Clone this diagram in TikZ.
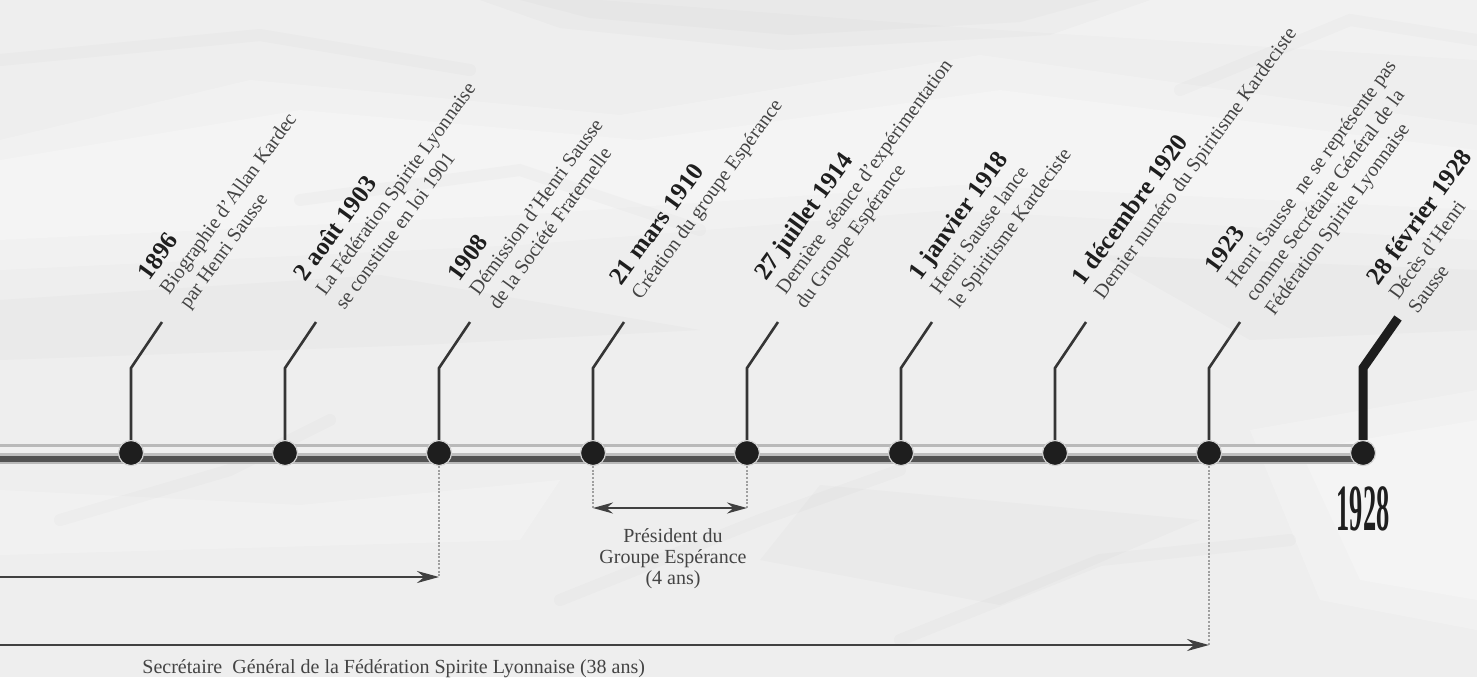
\documentclass[tikz,border=0pt]{standalone}
\usepackage{fontspec}
\setmainfont{Liberation Serif}
\usetikzlibrary{arrows.meta}
\definecolor{paper}{RGB}{238,238,238}
\definecolor{ink}{RGB}{30,30,30}
\definecolor{descink}{RGB}{68,68,68}
\newcommand\tldate[1]{{\fontsize{12.5}{12}\selectfont\bfseries\color{ink}#1}}
\tikzset{
  tldot/.style={circle, fill=ink, draw=gray!35, line width=0.6pt, minimum size=12.5pt, inner sep=0pt},
  tltick/.style={draw=ink!90, line width=1.3pt},
  tlbigtick/.style={draw=ink, line width=4.5pt},
  evlabel/.style={rotate=54, anchor=west, align=left, inner sep=0pt, text=descink,
                  font=\fontsize{10}{12}\selectfont},
  guide/.style={draw=gray!75, line width=0.8pt, dash pattern=on 1pt off 0.8pt},
  span/.style={draw=ink!85, line width=1.2pt},
  note/.style={align=center, text=descink, inner sep=0pt, font=\fontsize{10}{10.5}\selectfont},
  crease/.style={draw=gray, line width=6pt, opacity=0.035, line cap=round},
  glow/.style={fill=white, opacity=0.22}
}
\begin{document}
\begin{tikzpicture}[x=0.5pt,y=-0.5pt]
\useasboundingbox (0,0) rectangle (1477,677);
% paper background
\fill[paper] (0,0) rectangle (1477,677);
\fill[glow] (0,140) -- (250,80) -- (620,115) -- (980,55) -- (1477,125) -- (1477,240) -- (950,210) -- (520,245) -- (0,270) -- cycle;
\fill[glow] (0,160) -- (300,110) -- (640,140) -- (1000,90) -- (1477,150) -- (1477,210) -- (960,185) -- (520,215) -- (0,240) -- cycle;
\fill[glow] (1250,430) -- (1477,390) -- (1477,630) -- (1320,600) -- cycle;
\fill[glow] (1300,450) -- (1477,420) -- (1477,600) -- (1360,580) -- cycle;
\fill[glow] (0,490) -- (300,505) -- (560,480) -- (520,540) -- (0,555) -- cycle;
\fill[glow] (600,0) -- (1477,0) -- (1477,60) -- (1000,30) -- cycle;
\fill[gray,opacity=0.035] (480,0) -- (1150,0) -- (1050,35) -- (780,50) -- (560,28) -- cycle;
\fill[gray,opacity=0.035] (520,0) -- (1100,0) -- (1020,22) -- (790,35) -- (590,18) -- cycle;
\fill[gray,opacity=0.03] (0,300) -- (380,275) -- (700,330) -- (420,345) -- (0,360) -- cycle;
\fill[gray,opacity=0.03] (820,485) -- (1200,520) -- (1000,605) -- (760,560) -- cycle;
\fill[gray,opacity=0.03] (1100,255) -- (1477,270) -- (1477,330) -- (1250,340) -- cycle;
\draw[crease] (0,60) -- (260,35) -- (470,70);
\draw[crease] (560,600) -- (760,520) -- (900,470);
\draw[crease] (1180,90) -- (1350,20) -- (1477,40);
\draw[crease] (60,520) -- (230,470) -- (330,420);
\draw[crease] (900,640) -- (1100,560) -- (1290,540);
\draw[crease] (300,200) -- (520,170) -- (700,230);
% timeline bar
\fill[gray!55] (0,444) rectangle (1363,464);
\fill[gray!12] (0,447) rectangle (1363,453);
\fill[gray!50] (0,453) rectangle (1363,456);
\fill[black!68] (0,456) rectangle (1363,462);
% dots
\foreach \i [evaluate=\i as \x using 131+154*(\i-1)] in {1,...,9}{
  \node[tldot] (d\i) at (\x,453) {};
  \coordinate (k\i) at (\x,368);
}
\foreach \i [evaluate=\i as \x using 131+154*(\i-1)] in {1,...,8}{
  \coordinate (e\i) at (\x+31,322);
  \draw[tltick] (d\i) -- (k\i) -- (e\i);
}
\coordinate (e9) at (1398,318);
\draw[tlbigtick] (d9) -- (k9) -- (e9);
% event labels
\node[evlabel] (l1) at (164,292) {\tldate{1896}\\Biographie d'Allan Kardec\\par Henri Sausse};
\node[evlabel] (l2) at (318,292) {\tldate{2 août 1903}\\La Fédération Spirite Lyonnaise\\se constitue en loi 1901};
\node[evlabel] (l3) at (472,292) {\tldate{1908}\\Démission d'Henri Sausse\\de la Société Fraternelle};
\node[evlabel] (l4) at (626,290) {\tldate{21 mars 1910}\\Création du groupe Espérance};
\node[evlabel] (l5) at (780,292) {\tldate{27 juillet 1914}\\Dernière\ \ séance d'expérimentation\\du Groupe Espérance};
\node[evlabel] (l6) at (934,292) {\tldate{1 janvier 1918}\\Henri Sausse lance\\le Spiritisme Kardeciste};
\node[evlabel] (l7) at (1088,290) {\tldate{1 décembre 1920}\\Dernier numéro du Spiritisme Kardeciste};
\node[evlabel] (l8) at (1240,292) {\tldate{1923}\\Henri Sausse\ \ ne se représente pas\\comme Secrétaire Général de la\\Fédération Spirite Lyonnaise};
\node[evlabel] (l9) at (1391,296) {\tldate{28 février 1928}\\Décès d'Henri\\Sausse};
% big year
\node[inner sep=0pt, text=ink] (y1928) at (1363,509) {\scalebox{0.4}[1]{\fontsize{33}{33}\selectfont\bfseries 1928}};
% spans
\coordinate (a1s) at (0,577); \coordinate (a1e) at (439,577);
\draw[guide] (d3) -- (a1e);
\draw[span,-{Stealth[length=11pt,width=6pt]}] (a1s) -- (a1e);
\coordinate (b1) at (593,508); \coordinate (b2) at (747,508);
\draw[guide] (d4) -- (b1);
\draw[guide] (d5) -- (b2);
\draw[span,{Stealth[length=10pt,width=5.5pt]}-{Stealth[length=10pt,width=5.5pt]}] (b1) -- (b2);
\node[note, anchor=north] (n1) at (673,528) {Président du\\Groupe Espérance\\(4 ans)};
\coordinate (c1s) at (0,645); \coordinate (c1e) at (1209,645);
\draw[guide] (d8) -- (c1e);
\draw[span,-{Stealth[length=11pt,width=6pt]}] (c1s) -- (c1e);
\node[note, anchor=base west] (n2) at (142,673) {Secrétaire\ \ Général de la Fédération Spirite Lyonnaise (38 ans)};
\end{tikzpicture}
\end{document}
